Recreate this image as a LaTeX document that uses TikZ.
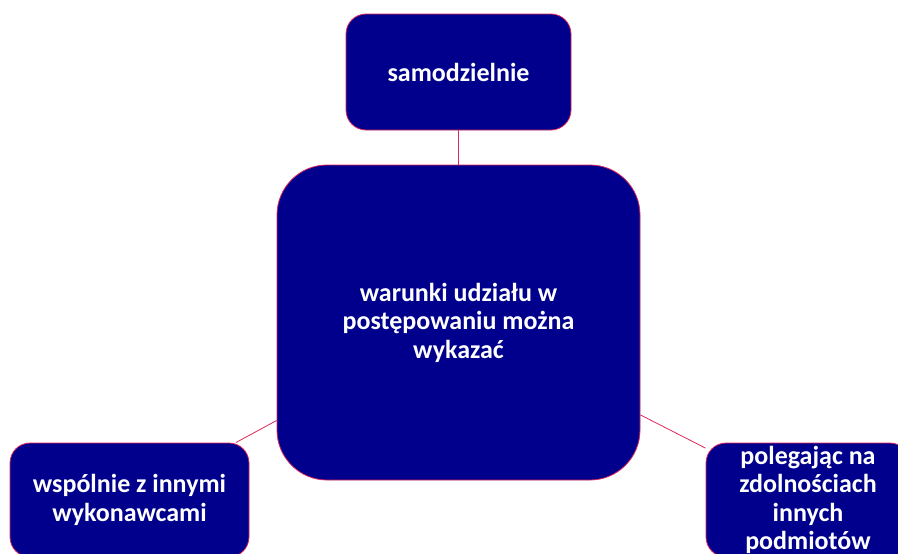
\documentclass[tikz,border=0pt]{standalone}
\usepackage{fontspec}
\setmainfont{Carlito}
\usetikzlibrary{positioning}
\definecolor{boxblue}{RGB}{0,0,140}
\definecolor{linkred}{RGB}{220,40,90}

\begin{document}
\begin{tikzpicture}[x=1pt,y=-1pt,
    topic/.style={draw=linkred,line width=0.8pt,fill=boxblue,text=white,
      font=\bfseries\fontsize{26}{28.5}\selectfont,align=center,inner sep=0pt},
    link/.style={draw=linkred,line width=0.8pt}]
      \useasboundingbox (0,0) rectangle (898,554);
      \node[topic,minimum width=363pt,minimum height=315pt,rounded corners=50pt](main) at (458.5,322.5){warunki udziału w\\postępowaniu można\\wykazać};
      \node[topic,minimum width=225pt,minimum height=116pt,rounded corners=20pt](alone) at (458.5,72){samodzielnie};
      \node[topic,minimum width=239pt,minimum height=114pt,rounded corners=20pt](joint) at (129.5,500){wspólnie z innymi\\wykonawcami};
      \node[topic,minimum width=204pt,minimum height=114pt,rounded corners=20pt](others) at (808,500){polegając na\\zdolnościach\\innych\\podmiotów};
      \draw[link] (main) -- (alone);
      \draw[link] (main) -- (joint);
      \draw[link] (main) -- (others);
    \end{tikzpicture}
\end{document}
